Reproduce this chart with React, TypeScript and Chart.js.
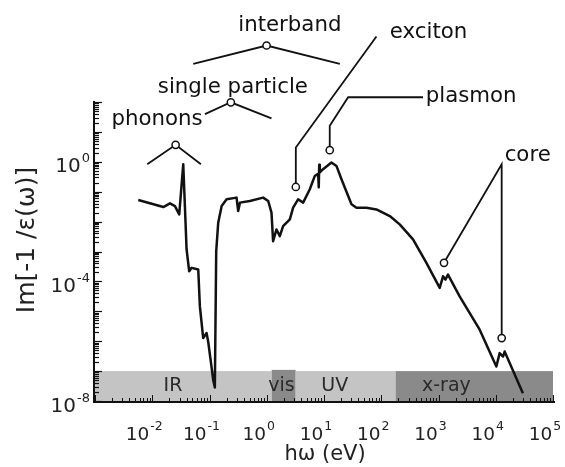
import React, { useEffect, useRef } from "react";
import { Chart, registerables } from "chart.js";

Chart.register(...registerables);

// photon energy hω (eV)
const energy = [
  0.0057, 0.0156, 0.0204, 0.0249, 0.0296, 0.0348, 0.0398, 0.0442, 0.0488, 0.0636,
  0.0679, 0.0776, 0.0889, 0.0948, 0.1045, 0.116, 0.124, 0.131, 0.142, 0.163,
  0.199, 0.297, 0.317, 0.34, 0.507, 0.865, 1.06, 1.21, 1.29, 1.48,
  1.69, 1.93, 2.53, 2.89, 3.53, 4.32, 5.65, 6.91, 7.9, 8.1,
  8.25, 8.45, 9.64, 13.5, 16.5, 20.2, 30.2, 36.9, 55.2, 82.4,
  141, 210, 359, 615, 1050, 1200, 1320, 1465, 2340, 5240,
  10240, 11700, 13400, 14300, 29800,
];
// Im[-1/ε(ω)]
const lossFunction = [
  0.0526, 0.0307, 0.0408, 0.0331, 0.0175, 0.83, 0.00117, 2.18e-4, 2.84e-4, 2.49e-4,
  1.46e-5, 1.27e-6, 1.87e-6, 9.77e-7, 2.38e-7, 5.07e-8, 2.84e-8, 1e-3, 9.18e-3, 0.0331,
  0.0556, 0.0634, 0.0225, 0.0431, 0.0488, 0.0634, 0.0488, 0.0199, 2.22e-3, 5.47e-3,
  3.26e-3, 7.06e-3, 0.0119, 0.0292, 0.0556, 0.0431, 0.1205, 0.337, 0.4, 0.14,
  0.8, 0.44, 0.565, 0.948, 0.728, 0.261, 0.0378, 0.0292, 0.0292, 0.0256,
  0.0153, 8.05e-3, 2.53e-3, 4.18e-4, 6.05e-5, 1.48e-4, 1.15e-4, 1.69e-4, 3.16e-5, 2.42e-6,
  1.42e-7, 3.99e-7, 3.07e-7, 4.51e-7, 1.81e-8,
];

// spectral regions
const bandNames = ["IR", "vis", "UV", "x-ray"];
const bandStart = [1e-3, 1.22, 3.2, 178];
const bandEnd = [1.22, 3.2, 178, 1e5];
const bandTop = [1e-7, 1.1e-7, 1e-7, 1e-7];
const bandLabelE = [0.023, 1.8, 15.4, 1374];
const bandLabelV = [3.2e-8, 3.2e-8, 3.2e-8, 3.2e-8];

// axes
const xMin = 1e-3;
const xMax = 1e5;
const yMin = 1e-8;
const yMax = 1e2;
const xTickExps = [-2, -1, 0, 1, 2, 3, 4, 5];
const yTickExps = [-8, -4, 0];
const minorMultipliers = [2, 3, 4, 5, 6, 7, 8, 9];

// annotation leader lines (energy, value)
const phononLineE = [0.00818, 0.0256, 0.0708];
const phononLineV = [0.83, 3.69, 0.83];
const singleLineE = [0.0832, 0.236, 1.21];
const singleLineV = [39.5, 97.7, 28.4];
const interbandLineE = [0.052, 0.993, 18.9];
const interbandLineV = [1884, 7745, 1884];
const excitonLineE = [3.22, 3.22, 82.4];
const excitonLineV = [0.144, 3.02, 15530];
const plasmonLineE = [12.6, 12.6, 26.4, 536];
const plasmonLineV = [2.45, 16.0, 144, 144];
const coreLineE = [1248, 12680, 12700];
const coreLineV = [4.18e-4, 0.83, 1.27e-6];

// annotation markers
const markerE = [0.0256, 0.236, 0.993, 3.22, 12.6, 1248, 12700];
const markerV = [3.69, 97.7, 7745, 0.144, 2.45, 4.18e-4, 1.27e-6];

// annotation labels
const labelTexts = ["phonons", "single particle", "interband", "exciton", "plasmon", "core"];
const labelE = [0.0121, 0.256, 2.53, 141, 598, 14300];
const labelV = [27.0, 318, 35400, 20600, 150, 1.6];
const labelAlign = ["center", "center", "center", "left", "left", "left"];

const FONT = '"DejaVu Sans", "Noto Sans", sans-serif';
const LIGHT = "#c4c4c4";
const DARK = "#8a8a8a";
const bandFill = [LIGHT, DARK, LIGHT, DARK];

const toXY = (es: number[], vs: number[]) => es.map((e, i) => ({ x: e, y: vs[i] }));

const leaderStyle = {
  type: "line" as const,
  borderColor: "#111",
  borderWidth: 1.8,
  pointRadius: 0,
  fill: false,
  clip: false as any,
  order: 1,
  tension: 0,
};

function drawPow(ctx: CanvasRenderingContext2D, exp: number, x: number, baseline: number, anchor: "center" | "right", base: number, sup: number, raise: number) {
  ctx.font = `${base}px ${FONT}`;
  const w1 = ctx.measureText("10").width;
  ctx.font = `${sup}px ${FONT}`;
  const es = String(exp);
  const w2 = ctx.measureText(es).width;
  const total = w1 + 1 + w2;
  const left = anchor === "center" ? x - total / 2 : x - total;
  ctx.textAlign = "left";
  ctx.textBaseline = "alphabetic";
  ctx.font = `${base}px ${FONT}`;
  ctx.fillText("10", left, baseline);
  ctx.font = `${sup}px ${FONT}`;
  ctx.fillText(es, left + w1 + 1, baseline - raise);
}

const decorPlugin = {
  id: "decor",
  beforeDatasetsDraw(chart: any) {
    const ctx: CanvasRenderingContext2D = chart.ctx;
    const xs = chart.scales.x;
    const ys = chart.scales.y;
    ctx.save();
    const yb = ys.getPixelForValue(yMin);
    bandNames.forEach((name, i) => {
      const x0 = xs.getPixelForValue(bandStart[i]);
      const x1 = xs.getPixelForValue(bandEnd[i]);
      const yt = ys.getPixelForValue(bandTop[i]);
      ctx.fillStyle = bandFill[i];
      ctx.fillRect(x0, yt, x1 - x0, yb - yt);
    });
    ctx.fillStyle = "#2a2a2a";
    ctx.font = `19px ${FONT}`;
    ctx.textAlign = "center";
    ctx.textBaseline = "middle";
    bandNames.forEach((name, i) => {
      ctx.fillText(name, xs.getPixelForValue(bandLabelE[i]), ys.getPixelForValue(bandLabelV[i]));
    });
    ctx.restore();
  },
  afterDatasetsDraw(chart: any) {
    const ctx: CanvasRenderingContext2D = chart.ctx;
    const xs = chart.scales.x;
    const ys = chart.scales.y;
    const area = chart.chartArea;
    ctx.save();
    ctx.strokeStyle = "#111";
    ctx.fillStyle = "#111";
    // axis lines
    ctx.lineWidth = 2;
    ctx.beginPath();
    ctx.moveTo(area.left - 1, area.top - 1);
    ctx.lineTo(area.left - 1, area.bottom + 1);
    ctx.lineTo(area.right + 2, area.bottom + 1);
    ctx.stroke();
    // y ticks
    ctx.lineWidth = 1.2;
    for (let d = -8; d <= 2; d++) {
      const v = Math.pow(10, d);
      const py = Math.round(ys.getPixelForValue(v)) + 0.5;
      ctx.beginPath();
      ctx.moveTo(area.left, py);
      ctx.lineTo(area.left + 7, py);
      ctx.stroke();
      if (d < 2) {
        minorMultipliers.forEach((m) => {
          const p = Math.round(ys.getPixelForValue(m * v)) + 0.5;
          ctx.beginPath();
          ctx.moveTo(area.left, p);
          ctx.lineTo(area.left + 4, p);
          ctx.stroke();
        });
      }
    }
    // x ticks
    ctx.lineWidth = 1;
    for (let d = -3; d <= 5; d++) {
      const v = Math.pow(10, d);
      const px = Math.round(xs.getPixelForValue(v)) + 0.5;
      ctx.beginPath();
      ctx.moveTo(px, area.bottom);
      ctx.lineTo(px, area.bottom - 6);
      ctx.stroke();
      if (d < 5) {
        minorMultipliers.forEach((m) => {
          const p = Math.round(xs.getPixelForValue(m * v)) + 0.5;
          ctx.beginPath();
          ctx.moveTo(p, area.bottom);
          ctx.lineTo(p, area.bottom - 3);
          ctx.stroke();
        });
      }
    }
    // markers
    ctx.lineWidth = 1.5;
    markerE.forEach((e, i) => {
      const px = xs.getPixelForValue(e);
      const py = ys.getPixelForValue(markerV[i]);
      ctx.beginPath();
      ctx.arc(px, py, 3.6, 0, Math.PI * 2);
      ctx.fillStyle = "#fff";
      ctx.fill();
      ctx.stroke();
    });
    // tick labels
    ctx.fillStyle = "#222";
    xTickExps.forEach((e) => {
      const px = xs.getPixelForValue(Math.pow(10, e));
      drawPow(ctx, e, px - 8, 440, "center", 18.5, 12.5, 10);
    });
    yTickExps.forEach((e) => {
      const py = ys.getPixelForValue(Math.pow(10, e));
      drawPow(ctx, e, 90, py + 10.5, "right", 20, 13, 10);
    });
    // axis titles
    ctx.fillStyle = "#222";
    ctx.font = `21px ${FONT}`;
    ctx.textAlign = "center";
    ctx.textBaseline = "middle";
    ctx.fillText("hω (eV)", 325, 455);
    ctx.save();
    ctx.translate(27, 240);
    ctx.rotate(-Math.PI / 2);
    ctx.font = `25px ${FONT}`;
    ctx.fillText("Im[-1 /ε(ω)]", 0, 0);
    ctx.restore();
    // annotation labels
    ctx.fillStyle = "#111";
    ctx.font = `21.3px ${FONT}`;
    ctx.textBaseline = "middle";
    labelTexts.forEach((t, i) => {
      ctx.textAlign = labelAlign[i] as CanvasTextAlign;
      ctx.fillText(t, xs.getPixelForValue(labelE[i]), ys.getPixelForValue(labelV[i]));
    });
    ctx.restore();
  },
};

export default function App() {
  const ref = useRef<HTMLCanvasElement | null>(null);
  useEffect(() => {
    if (!ref.current) return;
    const chart = new Chart(ref.current, {
      type: "line",
      data: {
        datasets: [
          {
            data: toXY(energy, lossFunction),
            borderColor: "#111",
            borderWidth: 2.5,
            pointRadius: 0,
            fill: false,
            tension: 0,
            borderJoinStyle: "round",
            order: 1,
          } as any,
          { ...leaderStyle, data: toXY(phononLineE, phononLineV) },
          { ...leaderStyle, data: toXY(singleLineE, singleLineV) },
          { ...leaderStyle, data: toXY(interbandLineE, interbandLineV) },
          { ...leaderStyle, data: toXY(excitonLineE, excitonLineV) },
          { ...leaderStyle, data: toXY(plasmonLineE, plasmonLineV) },
          { ...leaderStyle, data: toXY(coreLineE, coreLineV) },
        ] as any,
      },
      options: {
        responsive: false,
        animation: false,
        layout: { padding: { left: 95, top: 102, right: 12, bottom: 66 } },
        scales: {
          x: { type: "logarithmic", min: xMin, max: xMax, display: false },
          y: { type: "logarithmic", min: yMin, max: yMax, display: false },
        },
        plugins: { legend: { display: false }, tooltip: { enabled: false } },
        events: [],
      },
      plugins: [decorPlugin],
    });
    return () => chart.destroy();
  }, []);
  return (
    <div style={{ position: "fixed", left: 0, top: 0, width: 565, height: 467, background: "#fff" }}>
      <canvas ref={ref} width={565} height={467} />
    </div>
  );
}
